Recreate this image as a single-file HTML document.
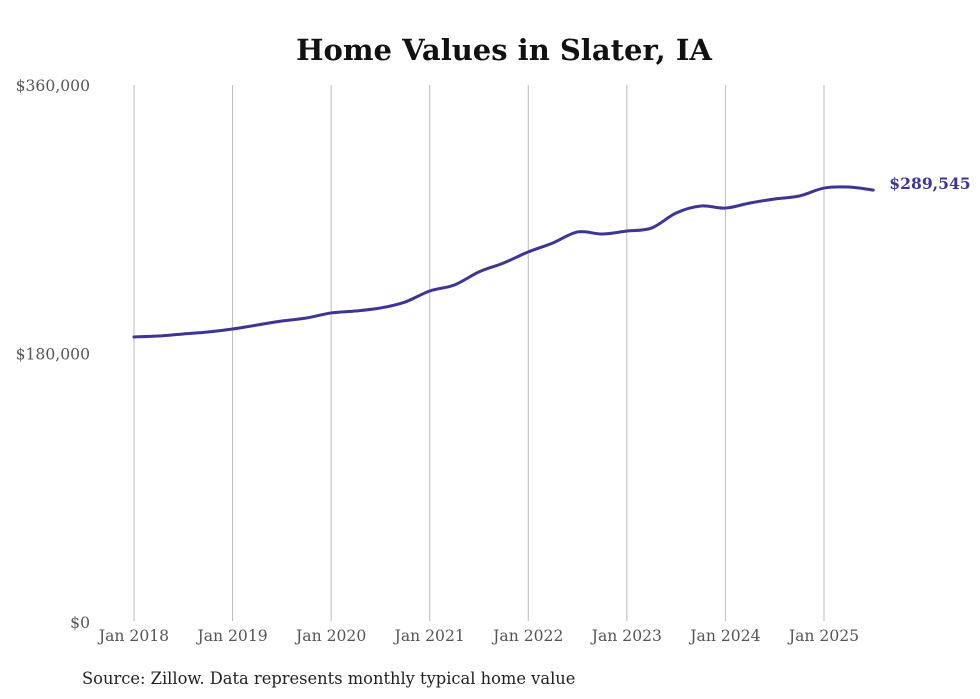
<!DOCTYPE html>
<html><head><meta charset="utf-8"><style>
body{margin:0;background:#fff;}
svg{display:block;font-family:"DejaVu Serif","Liberation Serif",serif;}
</style></head><body>
<svg id="chart" width="980" height="699">
<text x="504" y="60" text-anchor="middle" font-size="29" font-weight="bold" fill="#111">Home Values in Slater, IA</text>
<g id="grid"></g><g id="yaxis"></g><g id="xaxis"></g><g id="series"></g>
<text x="82" y="684" font-size="16.3" fill="#222">Source: Zillow. Data represents monthly typical home value</text>
</svg>
<script>
const yTicks=[0,180000,360000];
const yTickLabels=["$0","$180,000","$360,000"];
const xYears=[2018,2019,2020,2021,2022,2023,2024,2025];
const xTickLabels=["Jan 2018","Jan 2019","Jan 2020","Jan 2021","Jan 2022","Jan 2023","Jan 2024","Jan 2025"];
const dates=[2018,2018.25,2018.5,2018.75,2019,2019.25,2019.5,2019.75,2020,2020.25,2020.5,2020.75,2021,2021.25,2021.5,2021.75,2022,2022.25,2022.5,2022.75,2023,2023.25,2023.5,2023.75,2024,2024.25,2024.5,2024.75,2025,2025.25,2025.5];
const values=[191100,191700,193100,194400,196400,199100,201800,203800,207200,208500,210500,214500,221900,225900,234700,240700,248100,254100,261500,260100,262100,264100,274200,278900,277500,280900,283600,285600,290900,291600,289545];
const endLabel="$289,545";
const NS="http://www.w3.org/2000/svg";
const X=t=>134+(t-2018)*98.57;
const Y=v=>622-v/360000*537;
function mk(tag,attrs,parent,text){const e=document.createElementNS(NS,tag);for(const k in attrs)e.setAttribute(k,attrs[k]);if(text!=null)e.textContent=text;document.getElementById(parent).appendChild(e);return e;}
xYears.forEach((yr,i)=>{
 const l=mk('line',{x1:X(yr),x2:X(yr),y1:85,y2:621,stroke:'#bbb','stroke-width':1},'grid');
 
 
 const t=mk('text',{x:X(yr),y:641,'text-anchor':'middle','font-size':15.6,fill:'#555'},'xaxis',xTickLabels[i]);
 
 
});
yTicks.forEach((v,i)=>{
 const t=mk('text',{x:90,y:Y(v)+6,'text-anchor':'end','font-size':15.6,fill:'#555'},'yaxis',yTickLabels[i]);
 
 
});
const pts=dates.map((d,i)=>[X(d),Y(values[i])]);
let d='M'+pts[0][0]+','+pts[0][1];
for(let i=0;i<pts.length-1;i++){
 const p0=pts[Math.max(0,i-1)],p1=pts[i],p2=pts[i+1],p3=pts[Math.min(pts.length-1,i+2)];
 const c1=[p1[0]+(p2[0]-p0[0])/6,p1[1]+(p2[1]-p0[1])/6],c2=[p2[0]-(p3[0]-p1[0])/6,p2[1]-(p3[1]-p1[1])/6];
 d+=` C${c1[0]},${c1[1]} ${c2[0]},${c2[1]} ${p2[0]},${p2[1]}`;
}
const path=mk('path',{d:d,fill:'none',stroke:'#3d3596','stroke-width':3,'stroke-linecap':'round'},'series');


const last=pts[pts.length-1];
const lab=mk('text',{x:last[0]+16,y:last[1]-1,'font-size':15.6,'font-weight':'bold',fill:'#3d3596'},'series',endLabel);


</script>
</body></html>
